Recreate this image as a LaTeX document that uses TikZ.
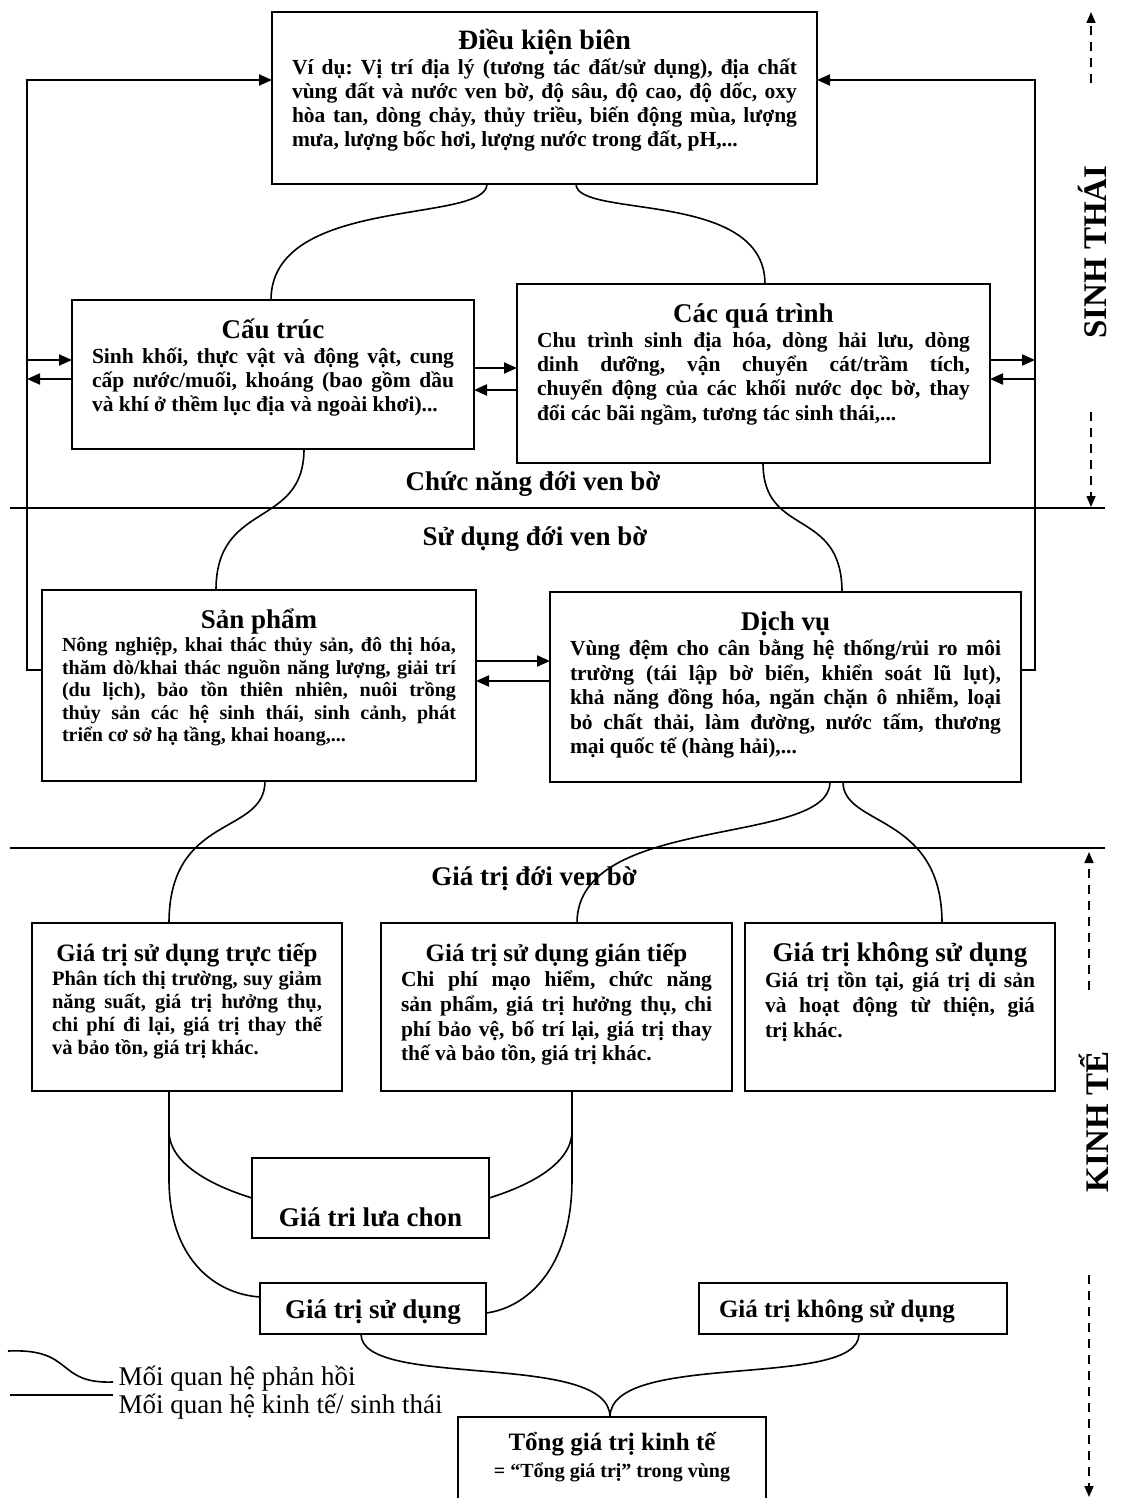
\documentclass[tikz,border=0pt]{standalone}
\usepackage{fontspec}
\setmainfont{Liberation Serif}
\usetikzlibrary{arrows.meta}
\frenchspacing

\newcommand{\jline}[1]{\hbox to\hsize{#1}}
\newcommand{\lline}[1]{\hbox{#1}}
% height, width, title size, body size, body skip, title, body
\newcommand{\panelbody}[7]{%
  \parbox[c][#1][t]{#2}{\lineskiplimit=-\maxdimen
    \fontsize{#4}{#5}\selectfont
    \hbox to\hsize{\hfil\fontsize{#3}{#3}\selectfont\rule{0pt}{38pt}#6\hfil}%
    \vspace{1pt}#7}}

\tikzset{
  panelbox/.style={draw, line width=2.2pt, anchor=north west, inner xsep=20pt,
    inner ysep=0pt, outer sep=0pt, font=\bfseries},
  fb/.style={line width=1.6pt},
  arr/.style={line width=2pt, -{Triangle[length=13pt,width=11pt]}},
  sep/.style={line width=2pt},
  dsh/.style={line width=1.6pt, dash pattern=on 9pt off 7pt,
    -{Triangle[length=11pt,width=9pt]}},
  lbl/.style={anchor=base, font={\bfseries\fontsize{27}{27}\selectfont}},
  side/.style={anchor=base, rotate=90, font={\bfseries\fontsize{33}{33}\selectfont}},
  legend/.style={anchor=base west, font={\fontsize{27}{27}\selectfont}}
}

\begin{document}
\begin{tikzpicture}[x=1pt,y=-1pt]
\useasboundingbox (0,0) rectangle (1125,1498);

\node[panelbox] (dk) at (272,12) {\panelbody{172pt}{505pt}{28pt}{21.5pt}{24pt}{Điều kiện biên}{%
  \jline{Ví dụ: Vị trí địa lý (tương tác đất/sử dụng), địa chất}
  \jline{vùng đất và nước ven bờ, độ sâu, độ cao, độ dốc, oxy}
  \jline{hòa tan, dòng chảy, thủy triều, biến động mùa, lượng}
  \lline{mưa, lượng bốc hơi, lượng nước trong đất, pH,...}}};

\node[panelbox] (ct) at (72,300) {\panelbody{149pt}{362pt}{27pt}{21.5pt}{24pt}{Cấu trúc}{%
  \jline{Sinh khối, thực vật và động vật, cung}
  \jline{cấp nước/muối, khoáng (bao gồm dầu}
  \lline{và khí ở thềm lục địa và ngoài khơi)...}}};

\node[panelbox] (qt) at (517,284) {\panelbody{179pt}{433pt}{27pt}{21.5pt}{24.3pt}{Các quá trình}{%
  \jline{Chu trình sinh địa hóa, dòng hải lưu, dòng}
  \jline{dinh dưỡng, vận chuyển cát/trầm tích,}
  \jline{chuyển động của các khối nước dọc bờ, thay}
  \lline{đổi các bãi ngầm, tương tác sinh thái,...}}};

\node[panelbox] (sp) at (42,590) {\panelbody{191pt}{394pt}{27pt}{20pt}{22.5pt}{Sản phẩm}{%
  \jline{Nông nghiệp, khai thác thủy sản, đô thị hóa,}
  \jline{thăm dò/khai thác nguồn năng lượng, giải trí}
  \jline{(du lịch), bảo tồn thiên nhiên, nuôi trồng}
  \jline{thủy sản các hệ sinh thái, sinh cảnh, phát}
  \lline{triển cơ sở hạ tầng, khai hoang,...}}};

\node[panelbox] (dv) at (550,592) {\panelbody{190pt}{431pt}{27pt}{21.5pt}{24.5pt}{Dịch vụ}{%
  \jline{Vùng đệm cho cân bằng hệ thống/rủi ro môi}
  \jline{trường (tái lập bờ biển, khiển soát lũ lụt),}
  \jline{khả năng đồng hóa, ngăn chặn ô nhiễm, loại}
  \jline{bỏ chất thải, làm đường, nước tấm, thương}
  \lline{mại quốc tế (hàng hải),...}}};

\node[panelbox] (tt) at (32,923) {\panelbody{168pt}{270pt}{25pt}{20.5pt}{23pt}{Giá trị sử dụng trực tiếp}{%
  \jline{Phân tích thị trường, suy giảm}
  \jline{năng suất, giá trị hưởng thụ,}
  \jline{chi phí đi lại, giá trị thay thế}
  \lline{và bảo tồn, giá trị khác.}}};

\node[panelbox] (gt) at (381,923) {\panelbody{168pt}{311pt}{25pt}{21.5pt}{24.7pt}{Giá trị sử dụng gián tiếp}{%
  \jline{Chi phí mạo hiểm, chức năng}
  \jline{sản phẩm, giá trị hưởng thụ, chi}
  \jline{phí bảo vệ, bố trí lại, giá trị thay}
  \lline{thế và bảo tồn, giá trị khác.}}};

\node[panelbox] (ks) at (745,923) {\panelbody{168pt}{270pt}{27pt}{21.5pt}{25pt}{Giá trị không sử dụng}{%
  \jline{Giá trị tồn tại, giá trị di sản}
  \jline{và hoạt động từ thiện, giá}
  \lline{trị khác.}}};

\node[panelbox] (lc) at (252,1158) {\parbox[c][80pt][t]{197pt}{\centering
  \fontsize{27}{27}\selectfont\rule{0pt}{68pt}Giá tri lưa chon}};
\node[panelbox] (sd) at (260,1283) {\parbox[c][51pt][t]{186pt}{\centering
  \fontsize{27}{27}\selectfont\rule{0pt}{35pt}Giá trị sử dụng}};
\node[panelbox] (ks2) at (699,1283) {\parbox[c][51pt][t]{268pt}{\raggedright
  \fontsize{25}{25}\selectfont\rule{0pt}{34pt}Giá trị không sử dụng}};
\node[panelbox] (tg) at (458,1417) {\parbox[c][100pt][t]{268pt}{\centering\lineskiplimit=-\maxdimen
  \fontsize{25}{27}\selectfont\rule{0pt}{33pt}Tổng giá trị kinh tế\par
  \fontsize{20}{27}\selectfont = “Tổng giá trị” trong vùng}};

\coordinate (laneL) at (27,0);
\coordinate (laneR) at (1035,0);

\draw[arr] (sp.west |- 0,670) -| (laneL |- 0,80) -- (dk.west |- 0,80);
\draw[arr] (dv.east |- 0,670) -| (laneR |- 0,80) -- (dk.east |- 0,80);
\draw[arr] (laneL |- 0,360) -- (ct.west |- 0,360);
\draw[arr] (ct.west |- 0,379) -- (laneL |- 0,379);
\draw[arr] (ct.east |- 0,368) -- (qt.west |- 0,368);
\draw[arr] (qt.west |- 0,390) -- (ct.east |- 0,390);
\draw[arr] (qt.east |- 0,360) -- (laneR |- 0,360);
\draw[arr] (laneR |- 0,379) -- (qt.east |- 0,379);
\draw[arr] (sp.east |- 0,661) -- (dv.west |- 0,661);
\draw[arr] (dv.west |- 0,681) -- (sp.east |- 0,681);

\draw[sep] (10,508) -- (1105,508);
\draw[sep] (10,848) -- (1105,848);

\draw[fb] (dk.south -| 487,0) .. controls +(0,40) and +(0,-105) .. (ct.north -| 271,0);
\draw[fb] (dk.south -| 576,0) .. controls +(0,35) and +(0,-95) .. (qt.north -| 765,0);
\draw[fb] (ct.south -| 304,0) .. controls +(0,80) and +(0,-90) .. (sp.north -| 216,0);
\draw[fb] (qt.south -| 763,0) .. controls +(0,75) and +(0,-85) .. (dv.north -| 842,0);
\draw[fb] (sp.south -| 265,0) .. controls +(0,55) and +(0,-110) .. (tt.north -| 169,0);
\draw[fb] (dv.south -| 830,0) .. controls +(0,65) and +(0,-110) .. (gt.north -| 577,0);
\draw[fb] (dv.south -| 843,0) .. controls +(0,45) and +(0,-110) .. (ks.north -| 942,0);
\draw[fb] (tt.south -| 169,0) -- ++(0,40) .. controls +(0,32) and +(-42,-13) .. (lc.west |- 0,1198);
\draw[fb] (tt.south -| 169,0) -- ++(0,88) .. controls +(0,80) and +(-45,-3) .. (sd.west |- 0,1297);
\draw[fb] (gt.south -| 572,0) -- ++(0,40) .. controls +(0,32) and +(42,-13) .. (lc.east |- 0,1198);
\draw[fb] (gt.south -| 572,0) -- ++(0,88) .. controls +(0,90) and +(40,-5) .. (sd.east |- 0,1313);
\draw[fb] (sd.south -| 361,0) .. controls +(0,56) and +(0,-67) .. (tg.north -| 610,0);
\draw[fb] (ks2.south -| 859,0) .. controls +(0,56) and +(0,-67) .. (tg.north -| 610,0);

\node[lbl] (cnlbl) at (533,490) {Chức năng đới ven bờ};
\node[lbl] (sdlbl) at (535,545) {Sử dụng đới ven bờ};
\node[lbl] (gtlbl) at (534,885) {Giá trị đới ven bờ};

\node[side] (stlbl) at (1106,252) {SINH THÁI};
\node[side] (ktlbl) at (1108,1122) {KINH TẾ};

\draw[dsh] (1091,83) -- (1091,12);
\draw[dsh] (1091,412) -- (1091,507);
\draw[dsh] (1089,990) -- (1089,852);
\draw[dsh] (1089,1275) -- (1089,1497);

\draw[fb] (8,1351) .. controls (75,1348) and (55,1384) .. (113,1382);
\draw[line width=2.2pt] (10,1395) -- (113,1395);
\node[legend] (fbtext) at (115,1385) {Mối quan hệ phản hồi};
\node[legend] (ectext) at (115,1413) {Mối quan hệ kinh tế/ sinh thái};
\end{tikzpicture}
\end{document}
